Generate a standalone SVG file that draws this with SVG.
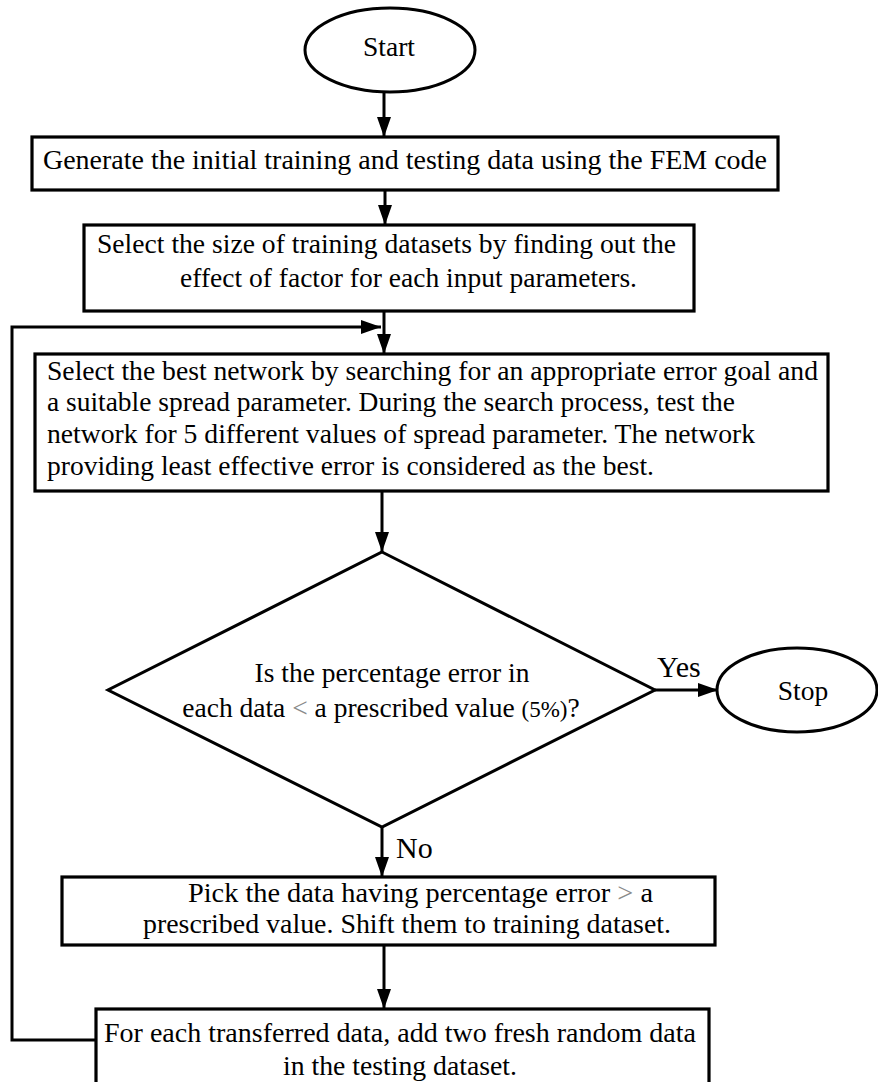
<svg xmlns="http://www.w3.org/2000/svg" width="878" height="1082" viewBox="0 0 878 1082">
<defs>
<style>
.box{fill:#fff;stroke:#000;stroke-width:3.2}
.term{fill:#fff;stroke:#000;stroke-width:3}
.con{fill:none;stroke:#000;stroke-width:3}
.t{font-family:"Liberation Serif","Times New Roman",serif;font-size:27.5px;fill:#000}
.lbl{font-family:"Liberation Serif","Times New Roman",serif;font-size:30px;fill:#000}
.g{fill:#8a8a8a}
</style>
<marker id="ah" markerUnits="userSpaceOnUse" markerWidth="20" markerHeight="14" refX="20" refY="7" orient="auto">
<path d="M0,0 L20,7 L0,14 z" fill="#000"/>
</marker>
</defs>
<rect width="878" height="1082" fill="#fff"/>

<g id="connectors">
<line class="con" x1="384" y1="92" x2="384" y2="137" marker-end="url(#ah)"/>
<line class="con" x1="385" y1="190" x2="385" y2="225" marker-end="url(#ah)"/>
<line class="con" x1="384" y1="312" x2="384" y2="354" marker-end="url(#ah)"/>
<polyline class="con" points="96,1040 12,1040 12,327 381,327" marker-end="url(#ah)"/>
<line class="con" x1="382" y1="492" x2="382" y2="552" marker-end="url(#ah)"/>
<line class="con" x1="655" y1="690" x2="718" y2="690" marker-end="url(#ah)"/>
<line class="con" x1="382" y1="827" x2="382" y2="877" marker-end="url(#ah)"/>
<line class="con" x1="384" y1="946" x2="384" y2="1009" marker-end="url(#ah)"/>
<text class="lbl" x="657" y="677">Yes</text>
<text class="lbl" x="396" y="858">No</text>
</g>

<g id="start">
<ellipse class="term" cx="390" cy="50" rx="85" ry="42"/>
<text class="t" x="389" y="56" text-anchor="middle">Start</text>
</g>

<g id="generate">
<rect class="box" x="32" y="137" width="746" height="53"/>
<text class="t" x="43" y="169" textLength="724" lengthAdjust="spacingAndGlyphs">Generate the initial training and testing data using the FEM code</text>
</g>

<g id="select-size">
<rect class="box" x="84" y="225" width="610" height="86"/>
<text class="t" x="97" y="253" textLength="579" lengthAdjust="spacingAndGlyphs">Select the size of training datasets by finding out the</text>
<text class="t" x="180" y="287" textLength="457" lengthAdjust="spacingAndGlyphs">effect of factor for each input parameters.</text>
</g>

<g id="select-network">
<rect class="box" x="35" y="354" width="793" height="137"/>
<text class="t" x="47" y="380" textLength="771" lengthAdjust="spacingAndGlyphs">Select the best network by searching for an appropriate error goal and</text>
<text class="t" x="47" y="411" textLength="688" lengthAdjust="spacingAndGlyphs">a suitable spread parameter. During the search process, test the</text>
<text class="t" x="47" y="443" textLength="708" lengthAdjust="spacingAndGlyphs">network for 5 different values of spread parameter. The network</text>
<text class="t" x="47" y="475" textLength="607" lengthAdjust="spacingAndGlyphs">providing least effective error is considered as the best.</text>
</g>

<g id="decision">
<polygon class="term" points="382,552 655,690 382,827 108,690"/>
<text class="t" x="392" y="682" text-anchor="middle">Is the percentage error in</text>
<text class="t" x="381" y="717" text-anchor="middle">each data <tspan class="g">&lt;</tspan> a prescribed value <tspan font-size="23">(5%)</tspan>?</text>
</g>

<g id="stop">
<ellipse class="term" cx="797" cy="690" rx="80" ry="42"/>
<text class="t" x="803" y="700" text-anchor="middle">Stop</text>
</g>

<g id="pick-data">
<rect class="box" x="62" y="877" width="653" height="68"/>
<text class="t" x="188" y="902" textLength="465" lengthAdjust="spacingAndGlyphs">Pick the data having percentage error <tspan class="g">&gt;</tspan> a</text>
<text class="t" x="143" y="933" textLength="528" lengthAdjust="spacingAndGlyphs">prescribed value. Shift them to training dataset.</text>
</g>

<g id="add-random">
<rect class="box" x="96" y="1009" width="613" height="90"/>
<text class="t" x="104" y="1042" textLength="592" lengthAdjust="spacingAndGlyphs">For each transferred data, add two fresh random data</text>
<text class="t" x="283" y="1075" textLength="234" lengthAdjust="spacingAndGlyphs">in the testing dataset.</text>
</g>
</svg>
